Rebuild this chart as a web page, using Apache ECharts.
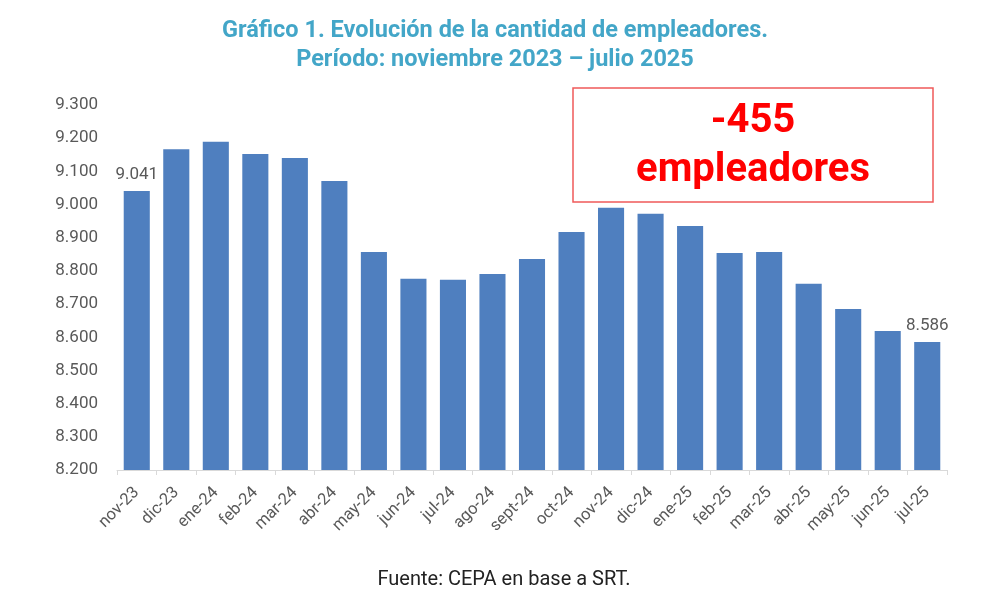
<!DOCTYPE html>
<html>
<head>
<meta charset="utf-8">
<script src="https://cdn.jsdelivr.net/npm/echarts@6/dist/echarts.min.js"></script>
<style>
  html, body { margin: 0; padding: 0; background: #fff; }
  #chart { width: 990px; height: 604px; }
</style>
</head>
<body>
<div id="chart"></div>
<script>
// datos
var meses = ['nov-23', 'dic-23', 'ene-24', 'feb-24', 'mar-24', 'abr-24', 'may-24', 'jun-24', 'jul-24', 'ago-24',
    'sept-24', 'oct-24', 'nov-24', 'dic-24', 'ene-25', 'feb-25', 'mar-25', 'abr-25', 'may-25', 'jun-25', 'jul-25'];
var empleadores = [9041, 9167, 9189, 9152, 9140, 9071, 8857, 8776, 8773, 8791,
    8836, 8917, 8990, 8972, 8935, 8854, 8857, 8761, 8685, 8619, 8586];
var etiquetados = [0, 20]; // indices con etiqueta de valor
var ejeMin = 8200, ejeMax = 9300, ejePaso = 100;

function fmt(v) {
    var s = String(Math.round(v));
    return s.slice(0, s.length - 3) + '.' + s.slice(s.length - 3);
}

var chart = echarts.init(document.getElementById('chart'));

var datos = [];
empleadores.forEach(function (v, i) {
    datos.push({
        value: v,
        label: { show: etiquetados.indexOf(i) >= 0 }
    });
});

chart.setOption({
    animation: false,
    title: {
        text: 'Gráfico 1. Evolución de la cantidad de empleadores.\nPeríodo: noviembre 2023 – julio 2025',
        left: 'center',
        top: 12,
        textStyle: {
            fontFamily: 'Roboto',
            fontWeight: 'bold',
            fontSize: 23.5,
            lineHeight: 29,
            color: '#43a6c8'
        }
    },
    grid: {
        left: 117,
        right: 43,
        top: 105,
        bottom: 134
    },
    xAxis: {
        type: 'category',
        data: meses,
        boundaryGap: true,
        axisLine: { lineStyle: { color: '#d9d9d9', width: 1 } },
        axisTick: { show: true, length: 5, lineStyle: { color: '#d9d9d9' } },
        axisLabel: {
            rotate: 45,
            interval: 0,
            margin: 20,
            fontFamily: 'Roboto',
            fontSize: 16.5,
            color: '#595959'
        }
    },
    yAxis: {
        type: 'value',
        min: ejeMin,
        max: ejeMax,
        interval: ejePaso,
        splitLine: { show: false },
        axisLine: { show: false },
        axisTick: { show: false },
        axisLabel: {
            margin: 19,
            fontFamily: 'Roboto',
            fontSize: 17,
            color: '#595959',
            formatter: fmt
        }
    },
    series: [{
        type: 'bar',
        data: datos,
        barWidth: '66%',
        itemStyle: { color: '#4f7fbf' },
        label: {
            position: 'top',
            distance: 8,
            fontFamily: 'Roboto',
            fontSize: 17,
            color: '#595959',
            formatter: function (p) { return fmt(p.value); }
        }
    }],
    graphic: [{
        type: 'rect',
        x: 573,
        y: 88,
        shape: { width: 360, height: 114 },
        style: { fill: '#fff', stroke: '#f05a5a', lineWidth: 1.5 }
    }, {
        type: 'text',
        x: 753,
        y: 97,
        style: {
            text: '-455\nempleadores',
            textAlign: 'center',
            fontFamily: 'Roboto',
            fontWeight: 'bold',
            fontSize: 40,
            lineHeight: 49,
            fill: '#ff0000'
        }
    }, {
        type: 'text',
        x: 504,
        y: 570,
        style: {
            text: 'Fuente: CEPA en base a SRT.',
            textAlign: 'center',
            fontFamily: 'Roboto',
            fontSize: 20,
            fill: '#222222'
        }
    }]
});
</script>
</body>
</html>
